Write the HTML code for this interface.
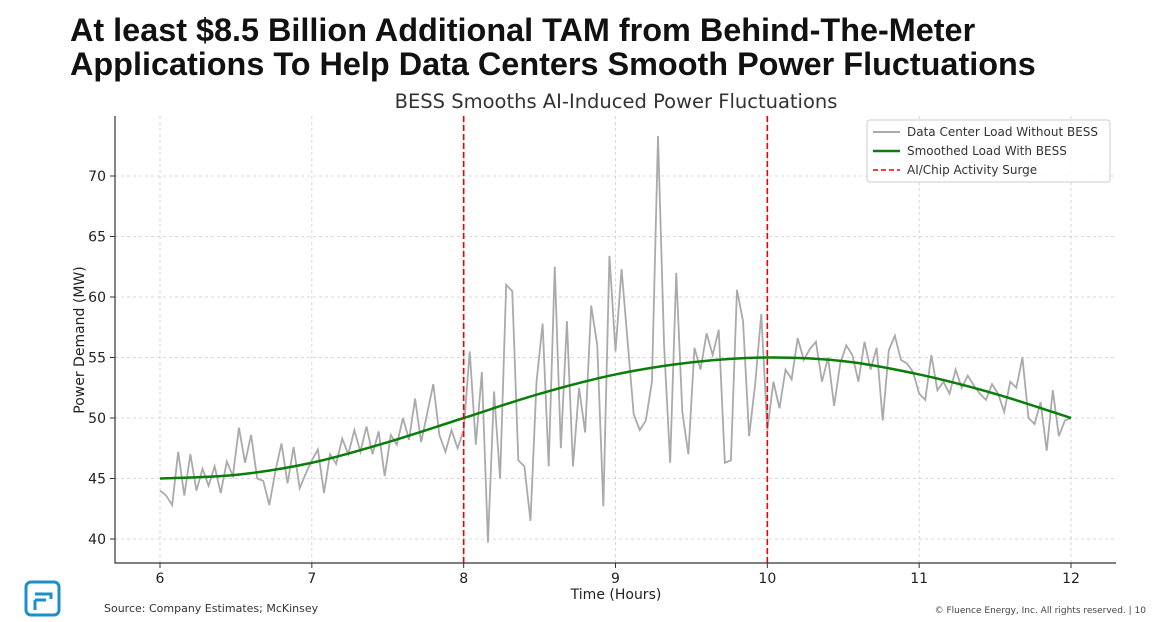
<!DOCTYPE html>
<html><head><meta charset="utf-8">
<style>
body{margin:0;width:1167px;height:622px;background:#fff;font-family:"Liberation Sans","DejaVu Sans",sans-serif;position:relative;overflow:hidden}
.h{position:absolute;left:70px;font-weight:bold;font-size:32.4px;color:#111;line-height:34px;letter-spacing:0px}
</style></head><body>
<div class="h" style="top:13px">At least $8.5 Billion Additional TAM from Behind-The-Meter<br>Applications To Help Data Centers Smooth Power Fluctuations</div>
<svg width="1167" height="622" style="position:absolute;left:0;top:0" id="chart" font-family="DejaVu Sans, sans-serif">
<text x="616" y="108" text-anchor="middle" font-size="19.5" fill="#333">BESS Smooths AI-Induced Power Fluctuations</text>
<g id="grid"></g><g id="series"></g><g id="axes"></g>
<text x="616" y="599" text-anchor="middle" font-size="14" fill="#222">Time (Hours)</text>
<text transform="translate(84,340) rotate(-90)" text-anchor="middle" font-size="14" fill="#222">Power Demand (MW)</text>
<g>
<rect x="867" y="120" width="243" height="62" rx="3" fill="#fff" fill-opacity="0.85" stroke="#ccc"/>
<line x1="873" y1="132" x2="900" y2="132" stroke="#aaa" stroke-width="2"/>
<text x="907" y="136" font-size="12" fill="#333">Data Center Load Without BESS</text>
<line x1="873" y1="151" x2="900" y2="151" stroke="#0a7e0a" stroke-width="2.5"/>
<text x="907" y="155" font-size="12" fill="#333">Smoothed Load With BESS</text>
<line x1="873" y1="170" x2="900" y2="170" stroke="#e00" stroke-width="1.5" stroke-dasharray="5,3"/>
<text x="907" y="174" font-size="12" fill="#333">AI/Chip Activity Surge</text>
</g>
<g>
<rect x="26" y="582" width="33" height="33" rx="5" fill="none" stroke="#1b8fc9" stroke-width="3"/>
<path d="M35 594 H51 V599 M35 600 V610 M35 600 H46" fill="none" stroke="#1b8fc9" stroke-width="3"/>
</g>
<text x="104" y="612" font-size="11" fill="#333">Source: Company Estimates; McKinsey</text>
<text x="1146" y="613" text-anchor="end" font-size="9" fill="#444">© Fluence Energy, Inc. All rights reserved.  |  10</text>
</svg>
<script>
const xTicks=[6,7,8,9,10,11,12];
const yTicks=[40,45,50,55,60,65,70];
const surgeTimes=[8,10];
const rawLoad=[44.0,43.6,42.8,47.2,43.6,47.0,44.0,45.8,44.4,46.0,43.8,46.4,45.2,49.2,46.3,48.6,45.0,44.8,42.8,45.6,47.9,44.6,47.6,44.2,45.4,
46.5,47.4,43.8,47.0,46.2,48.3,47.0,49.0,47.2,49.3,47.0,48.9,45.2,48.6,47.8,50.0,48.2,51.6,48.0,50.4,52.8,48.6,47.2,49.0,47.5,
49.0,55.5,47.8,53.8,39.7,52.2,45.0,61.0,60.5,46.5,46.0,41.5,53.0,57.8,46.0,62.5,47.5,58.0,46.0,52.5,48.8,59.3,56.0,42.7,63.4,
55.5,62.3,56.3,50.3,49.0,49.8,53.0,73.3,56.0,46.3,62.0,50.5,47.0,55.8,54.0,57.0,55.2,57.3,46.3,46.5,60.6,58.0,48.5,52.8,58.6,
49.0,53.0,50.8,54.0,53.2,56.6,54.8,55.7,56.3,53.0,55.0,51.0,54.5,56.0,55.2,53.0,56.3,54.0,55.8,49.8,55.6,56.8,54.8,54.5,53.8,
52.0,51.5,55.2,52.3,53.0,52.0,54.0,52.5,53.5,52.7,52.0,51.5,52.8,52.0,50.5,53.0,52.5,55.0,50.0,49.5,51.3,47.3,52.3,48.5,49.8,50.0];
const smoothTimes=[6,6.5,7,7.5,8,8.5,9,9.5,10,10.5,11,11.5,12];
const smoothLoad=[45,45.3,46.3,48.0,50.0,52.0,53.6,54.6,55,54.7,53.6,52.0,50];
const X0=115,X1=1116,Y0=563,Y1=116;
const sx=v=>160+(v-6)*(1071-160)/6;
const sy=v=>539-(v-40)*(539-176)/30;
const NS='http://www.w3.org/2000/svg';
function mk(tag,attrs,parent){const e=document.createElementNS(NS,tag);for(const k in attrs)e.setAttribute(k,attrs[k]);parent.appendChild(e);return e;}
const grid=document.getElementById('grid'),ser=document.getElementById('series'),ax=document.getElementById('axes');
xTicks.forEach(t=>{const l=mk('line',{x1:sx(t),x2:sx(t),y1:Y1,y2:Y0,stroke:'#ccc','stroke-dasharray':'3,3','stroke-width':0.8},grid);


const tx=mk('text',{x:sx(t),y:Y0+20,'text-anchor':'middle','font-size':14,fill:'#222'},ax);tx.textContent=t;


mk('line',{x1:sx(t),x2:sx(t),y1:Y0,y2:Y0+5,stroke:'#333'},ax);});
yTicks.forEach(t=>{const l=mk('line',{x1:X0,x2:X1,y1:sy(t),y2:sy(t),stroke:'#ccc','stroke-dasharray':'3,3','stroke-width':0.8},grid);


const tx=mk('text',{x:X0-9,y:sy(t)+5,'text-anchor':'end','font-size':14,fill:'#222'},ax);tx.textContent=t;


mk('line',{x1:X0-5,x2:X0,y1:sy(t),y2:sy(t),stroke:'#333'},ax);});
mk('path',{d:`M${X0} ${Y1} V${Y0} H${X1}`,fill:'none',stroke:'#333','stroke-width':1.2},ax);
const n=rawLoad.length;
const raw=mk('polyline',{points:rawLoad.map((v,i)=>sx(6+6*i/(n-1))+','+sy(v)).join(' '),fill:'none',stroke:'#aaa','stroke-width':1.8},ser);


let d='';const P=smoothTimes.map((t,i)=>[sx(t),sy(smoothLoad[i])]);
d='M'+P[0][0]+' '+P[0][1];
for(let i=0;i<P.length-1;i++){const p0=P[Math.max(0,i-1)],p1=P[i],p2=P[i+1],p3=P[Math.min(P.length-1,i+2)];
d+=` C${p1[0]+(p2[0]-p0[0])/6} ${p1[1]+(p2[1]-p0[1])/6} ${p2[0]-(p3[0]-p1[0])/6} ${p2[1]-(p3[1]-p1[1])/6} ${p2[0]} ${p2[1]}`;}
const sm=mk('path',{d:d,fill:'none',stroke:'#0a7e0a','stroke-width':2.5},ser);


surgeTimes.forEach(t=>{const l=mk('line',{x1:sx(t),x2:sx(t),y1:Y1,y2:Y0,stroke:'#e00','stroke-width':1.6,'stroke-dasharray':'6,3'},ser);

});
</script>
</body></html>
